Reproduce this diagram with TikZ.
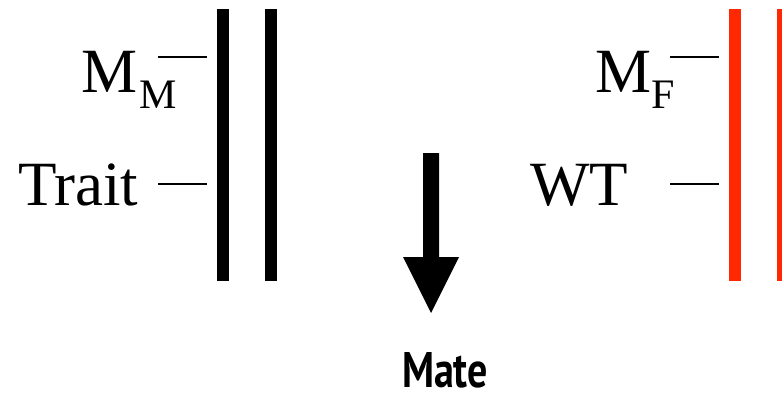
\documentclass[tikz,border=0pt]{standalone}
\usepackage{fontspec}
\setmainfont{Liberation Serif}
\newfontfamily\matefont[Scale=1.0]{PT Sans}
\definecolor{chromred}{RGB}{255,40,0}
\tikzset{
  lbl/.style={inner sep=0pt, outer sep=0pt, anchor=base west, font=\fontsize{63}{63}\selectfont},
  sub/.style={inner sep=0pt, outer sep=0pt, anchor=base west, font=\fontsize{42}{42}\selectfont},
  tick/.style={line width=1.3pt, black},
  blackbar/.style={fill=black, draw=none},
  redbar/.style={fill=chromred, draw=none},
}
\begin{document}
\begin{tikzpicture}[x=1pt,y=-1pt]
\useasboundingbox (0,0) rectangle (782,394);
% chromosome bars
\fill[blackbar] (217,9) rectangle (229,281);
\fill[blackbar] (265,9) rectangle (277,281);
\fill[redbar] (729,9) rectangle (741,281);
\fill[redbar] (777,9) rectangle (789,281);
% labels left
\node[lbl] (mm) at (81,92) {M};
\node[sub] (mmsub) at (139,108) {M};
\node[lbl] (trait) at (18,205) {Trait};
% labels right
\node[lbl] (mf) at (595,92) {M};
\node[sub] (mfsub) at (651,108) {F};
\node[lbl] (wt) at (530,205) {WT};
% tick marks
\coordinate (t1a) at (158,57); \coordinate (t1b) at (207,57);
\coordinate (t2a) at (158,184); \coordinate (t2b) at (207,184);
\coordinate (t3a) at (670,57); \coordinate (t3b) at (719,57);
\coordinate (t4a) at (670,184); \coordinate (t4b) at (719,184);
\draw[tick] (t1a) -- (t1b);
\draw[tick] (t2a) -- (t2b);
\draw[tick] (t3a) -- (t3b);
\draw[tick] (t4a) -- (t4b);
% arrow
\fill[black] (423,153) -- (439,153) -- (439,257) -- (459,257) -- (431,313) -- (403,257) -- (423,257) -- cycle;
\node[inner sep=0pt, anchor=base, xscale=0.8, font=\matefont\bfseries\fontsize{50}{50}\selectfont] (mate) at (445,387) {Mate};
\end{tikzpicture}
\end{document}
